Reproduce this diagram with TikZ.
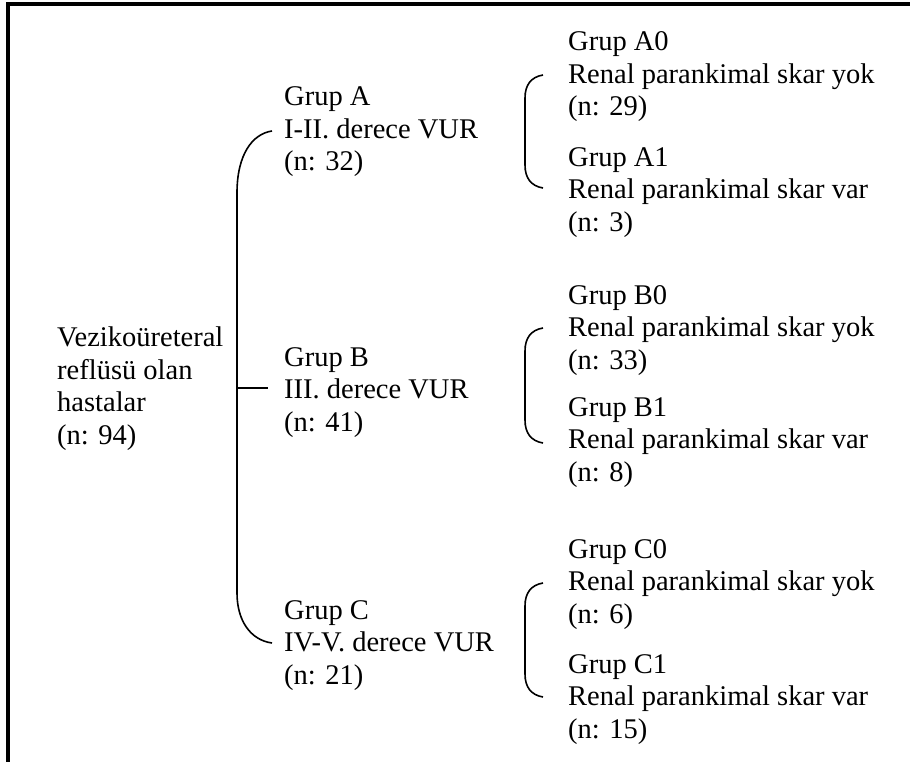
\documentclass[tikz,border=0pt]{standalone}
\usepackage{fontspec}
\setmainfont{Liberation Serif}
\begin{document}
\begin{tikzpicture}[x=1pt, y=-1pt, txt/.style={anchor=base west, align=left, inner sep=0pt, font=\fontsize{28.5}{32.5}\selectfont}, br/.style={line width=1.6pt}]
			\useasboundingbox (0,0) rectangle (910,762);
			\draw[line width=4pt] (910,4) -- (8,4) -- (8,762);

			% base anchor sits on the last line of each node
			\node[txt] (root) at (57,444) {Vezikoüreteral\\reflüsü olan\\hastalar\\(n: 94)};
			\node[txt] (grpA) at (284,171) {Grup A\\I-II. derece VUR\\(n: 32)};
			\node[txt] (grpB) at (284,431) {Grup B\\III. derece VUR\\(n: 41)};
			\node[txt] (grpC) at (284,684) {Grup C\\IV-V. derece VUR\\(n: 21)};
			\node[txt] (grpA0) at (568,116) {Grup A0\\Renal parankimal skar yok\\(n: 29)};
			\node[txt] (grpA1) at (568,231) {Grup A1\\Renal parankimal skar var\\(n: 3)};
			\node[txt] (grpB0) at (568,369) {Grup B0\\Renal parankimal skar yok\\(n: 33)};
			\node[txt] (grpB1) at (568,481) {Grup B1\\Renal parankimal skar var\\(n: 8)};
			\node[txt] (grpC0) at (568,623) {Grup C0\\Renal parankimal skar yok\\(n: 6)};
			\node[txt] (grpC1) at (568,738) {Grup C1\\Renal parankimal skar var\\(n: 15)};

			\coordinate (tipA) at (272,131);
			\coordinate (tipB) at (268,388);
			\coordinate (tipC) at (272,643);
			\coordinate (stem) at (237,388);
			\coordinate (tipA0) at (543,75);
			\coordinate (tipA1) at (543,188);
			\coordinate (tipB0) at (543,328);
			\coordinate (tipB1) at (543,443);
			\coordinate (tipC0) at (543,583);
			\coordinate (tipC1) at (543,697);

			\draw[br] (tipA) .. controls (252,134) and (237,155) .. (237,193) -- (237,593) .. controls (237,620) and (250,640) .. (tipC);
			\draw[br] (stem) -- (tipB);
			\draw[br] (tipA0) .. controls (531,77) and (525,85) .. (525,98) -- (525,165) .. controls (525,178) and (531,186) .. (tipA1);
			\draw[br] (tipB0) .. controls (531,330) and (525,338) .. (525,351) -- (525,420) .. controls (525,433) and (531,441) .. (tipB1);
			\draw[br] (tipC0) .. controls (531,585) and (525,593) .. (525,606) -- (525,674) .. controls (525,687) and (531,695) .. (tipC1);
		\end{tikzpicture}
\end{document}
